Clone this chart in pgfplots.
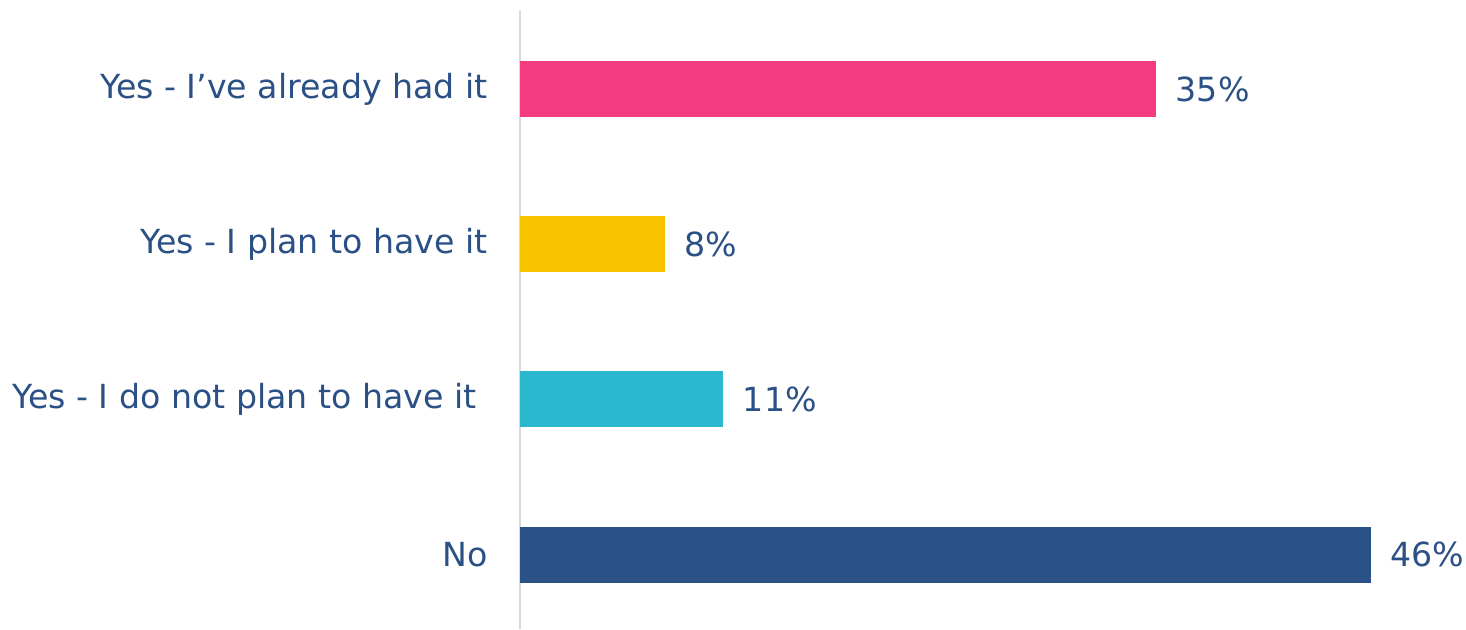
\documentclass[border=0pt]{standalone}
\usepackage{fontspec}
\setmainfont{DejaVu Sans}
\usepackage{pgfplots}
\pgfplotsset{compat=1.18}
\definecolor{txt}{HTML}{2B5086}
\definecolor{cpink}{HTML}{F43A80}
\definecolor{cyellow}{HTML}{F9C300}
\definecolor{ccyan}{HTML}{2AB8CE}
\definecolor{cnavy}{HTML}{2A5286}
\definecolor{axgray}{HTML}{D9D9D9}
\begin{document}
\begin{tikzpicture}
\begin{axis}[
  scale only axis, width=462.5pt, height=309.5pt,
  xmin=0, xmax=50, ymin=0.52, ymax=4.51,
  xbar, bar width=28pt, bar shift=0pt,
  axis x line=none,
  axis y line*=left,
  y axis line style={draw=axgray, line width=1pt, -},
  ytick={1,2,3,4},
  yticklabels={No, {Yes - I do not plan to have it\hspace*{5.5pt}}, Yes - I plan to have it, Yes - I’ve already had it},
  major tick length=0pt,
  yticklabel style={anchor=east, inner sep=0pt, xshift=-16pt, font=\fontsize{16.6}{19}\selectfont, text=txt},
  nodes near coords, point meta=explicit symbolic,
  every node near coord/.append style={anchor=west, inner sep=0pt, xshift=9.5pt, font=\fontsize{16.6}{19}\selectfont, text=txt},
  clip=false,
]
\addplot[fill=cpink, draw=none] coordinates {(34.4,4) [35\%]};
\addplot[fill=cyellow, draw=none] coordinates {(7.85,3) [8\%]};
\addplot[fill=ccyan, draw=none] coordinates {(11.0,2) [11\%]};
\addplot[fill=cnavy, draw=none] coordinates {(46.0,1) [46\%]};
\coordinate (O) at (axis cs:0,0.52);
\end{axis}
\pgfresetboundingbox
\useasboundingbox ([xshift=-260pt]O) rectangle ([xshift=473pt,yshift=314.5pt]O);
\end{tikzpicture}
\end{document}
